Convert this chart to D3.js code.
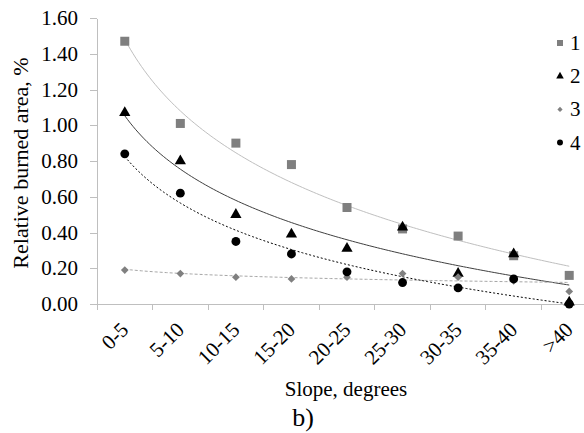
<!DOCTYPE html>
<html>
<head>
<meta charset="utf-8">
<script src="https://cdn.jsdelivr.net/npm/d3@7"></script>
<style>
  body { margin: 0; background: #fff; }
  .axis line, .axis path { stroke: #bfbfbf; shape-rendering: crispEdges; }
</style>
</head>
<body>
<script>
// slope classes on the x axis
var slopes = ["0-5", "5-10", "10-15", "15-20", "20-25", "25-30", "30-35", "35-40", ">40"];
var yTicks = [0, 0.2, 0.4, 0.6, 0.8, 1.0, 1.2, 1.4, 1.6];

// relative burned area, %
var s1 = [1.47, 1.01, 0.90, 0.78, 0.54, 0.42, 0.38, 0.27, 0.16];
var s2 = [1.07, 0.80, 0.50, 0.39, 0.31, 0.43, 0.17, 0.28, 0.01];
var s3 = [0.19, 0.17, 0.15, 0.14, 0.15, 0.17, 0.15, 0.13, 0.07];
var s4 = [0.84, 0.62, 0.35, 0.28, 0.18, 0.12, 0.09, 0.14, 0.00];
var seriesNames = ["1", "2", "3", "4"];

var W = 584, H = 433;
var plot = {left: 97, right: 597, top: 18, bottom: 304};
var serif = "'Liberation Serif', 'DejaVu Serif', serif";

var svg = d3.select("body").append("svg")
    .attr("width", W)
    .attr("height", H)
    .attr("font-family", serif);

var x = d3.scaleBand()
    .domain(slopes)
    .range([plot.left, plot.right])
    .padding(0);

var y = d3.scaleLinear()
    .domain([0, 1.6])
    .range([plot.bottom, plot.top]);

var bw = x.bandwidth();
function cx(i) { return x(slopes[i]) + bw / 2; }

// y axis
var yAxis = svg.append("g")
    .attr("class", "axis")
    .attr("transform", "translate(" + plot.left + ",0)")
    .call(d3.axisLeft(y).tickValues(yTicks).tickFormat(d3.format(".2f")).tickSize(7).tickSizeOuter(0).tickPadding(12));
yAxis.attr("font-family", serif).attr("font-size", 21);
yAxis.selectAll("text")
    .attr("font-family", serif)
    .attr("fill", "#000");

// x axis: line plus ticks on class boundaries
var xg = svg.append("g").attr("class", "axis");
xg.append("line")
    .attr("x1", plot.left).attr("x2", plot.right)
    .attr("y1", y(0)).attr("y2", y(0));
xg.selectAll(".xt")
    .data(slopes)
  .enter().append("line")
    .attr("class", "xt")
    .attr("x1", function(d) { return x(d); })
    .attr("x2", function(d) { return x(d); })
    .attr("y1", y(0))
    .attr("y2", y(0) + 6);
xg.selectAll(".xl")
    .data(slopes)
  .enter().append("text")
    .attr("class", "xl")
    .attr("text-anchor", "end")
    .attr("font-family", serif)
    .attr("font-size", 21)
    .attr("transform", function(d) {
      return "translate(" + (x(d) + bw / 2 + 5) + "," + (y(0) + 27) + ") rotate(-45)";
    })
    .text(function(d) { return d; });

// logarithmic trend lines, least squares on ln(class number)
function logFit(vals) {
  var lx = vals.map(function(v, i) { return Math.log(i + 1); });
  var mx = d3.mean(lx), my = d3.mean(vals);
  var sxy = d3.sum(vals, function(v, i) { return (lx[i] - mx) * (v - my); });
  var sxx = d3.sum(lx, function(v) { return (v - mx) * (v - mx); });
  var b = sxy / sxx, a = my - b * mx;
  return function(t) { return a + b * Math.log(t); };
}

var trendStyle = [
  {data: s1, stroke: "#bfbfbf", dash: null},
  {data: s2, stroke: "#404040", dash: null},
  {data: s3, stroke: "#a6a6a6", dash: "3,2"},
  {data: s4, stroke: "#000", dash: "2,2"}
];

var xCont = d3.scaleLinear().domain([1, slopes.length]).range([cx(0), cx(slopes.length - 1)]);
var tSteps = d3.range(1, slopes.length + 0.001, 0.05);

trendStyle.forEach(function(t) {
  var f = logFit(t.data);
  var line = d3.line()
      .x(function(d) { return xCont(d); })
      .y(function(d) { return y(f(d)); });
  svg.append("path")
      .datum(tSteps)
      .attr("fill", "none")
      .attr("stroke", t.stroke)
      .attr("stroke-width", 1)
      .attr("stroke-dasharray", t.dash)
      .attr("d", line);
});

// markers (the diamond is a square turned by 45 degrees)
var sym = [
  {data: s1, type: d3.symbolSquare, size: 81, fill: "#7f7f7f", rot: 0},
  {data: s2, type: d3.symbolTriangle, size: 55, fill: "#000", rot: 0},
  {data: s3, type: d3.symbolSquare, size: 30, fill: "#808080", rot: 45},
  {data: s4, type: d3.symbolCircle, size: 62, fill: "#000", rot: 0}
];

sym.forEach(function(s) {
  svg.append("g").selectAll("path")
      .data(s.data)
    .enter().append("path")
      .attr("d", d3.symbol().type(s.type).size(s.size))
      .attr("fill", s.fill)
      .attr("transform", function(d, i) {
        return "translate(" + cx(i) + "," + y(d) + ") rotate(" + s.rot + ")";
      });
});

// legend
var leg = svg.append("g").attr("transform", "translate(560,43)");
leg.selectAll("path")
    .data(sym)
  .enter().append("path")
    .attr("d", function(d) { return d3.symbol().type(d.type).size(d.size * 0.45)(); })
    .attr("fill", function(d) { return d.fill; })
    .attr("transform", function(d, i) { return "translate(0," + (i * 33.2) + ") rotate(" + d.rot + ")"; });
leg.selectAll("text")
    .data(seriesNames)
  .enter().append("text")
    .attr("x", 10)
    .attr("y", function(d, i) { return i * 33.2 + 7; })
    .attr("font-size", 21)
    .text(function(d) { return d; });

// axis titles
svg.append("text")
    .attr("text-anchor", "middle")
    .attr("transform", "translate(28,163) rotate(-90)")
    .attr("font-size", 22)
    .text("Relative burned area, %");

svg.append("text")
    .attr("text-anchor", "middle")
    .attr("x", 346)
    .attr("y", 396)
    .attr("font-size", 21)
    .text("Slope, degrees");

svg.append("text")
    .attr("text-anchor", "middle")
    .attr("x", 303)
    .attr("y", 426)
    .attr("font-size", 26)
    .text("b)");
</script>
</body>
</html>
